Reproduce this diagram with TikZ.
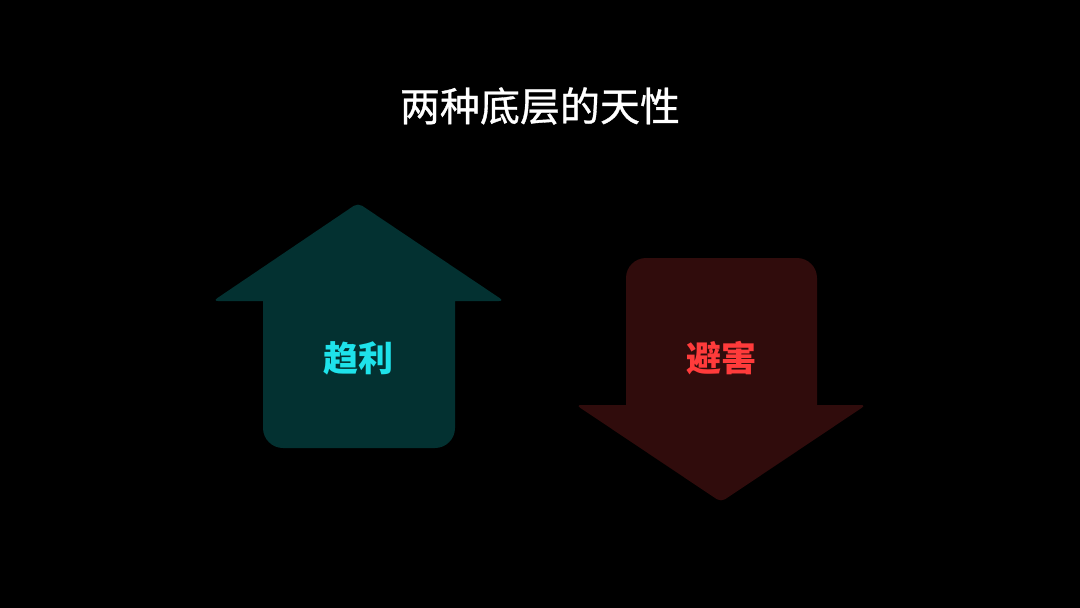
\documentclass[tikz,border=0pt]{standalone}
\usepackage{fontspec}
\usepackage{xcolor}
\usepackage{tikz}
\usetikzlibrary{positioning}
\newfontfamily\cjk{Noto Sans CJK SC}
\newfontfamily\cjkmid[FakeBold=0.8]{Noto Sans CJK SC}
\definecolor{night}{HTML}{000000}
\definecolor{deepteal}{HTML}{033131}
\definecolor{aqua}{HTML}{1EE2EA}
\definecolor{deepred}{HTML}{300C0C}
\definecolor{alarm}{HTML}{FF3B3B}

\begin{document}
\begin{tikzpicture}[x=1pt,y=-1pt,
    title/.style={font=\cjkmid\fontsize{40}{44}\selectfont,text=white},
    tag/.style={font=\cjk\bfseries\fontsize{35}{38}\selectfont}]
  \fill[night] (0,0) rectangle (1080,608);
  \useasboundingbox (0,0) rectangle (1080,608);
  % up arrow
  \fill[deepteal] (263,301) [rounded corners=5] -- (213,301) -- (358,203) -- (504,301) [sharp corners] -- (455,301)
    [rounded corners=20] -- (455,448) -- (263,448) [sharp corners] -- cycle;
  % down arrow
  \fill[deepred] (626,405) [rounded corners=20] -- (626,258) -- (817,258) [sharp corners] -- (817,405)
    [rounded corners=5] -- (866,405) -- (721,502) -- (576,405) [sharp corners] -- cycle;
  \node[title] (head) at (540,106) {两种底层的天性};
  \node[tag,text=aqua] (gain) at (358,358) {趋利};
  \node[tag,text=alarm] (harm) at (721,358) {避害};
\end{tikzpicture}
\end{document}
